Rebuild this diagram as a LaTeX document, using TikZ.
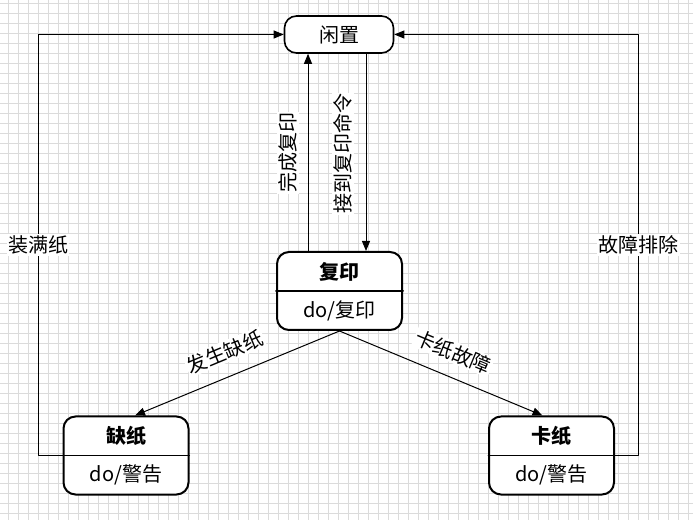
\documentclass[tikz,border=0pt]{standalone}
\usepackage{fontspec}
\setmainfont{Noto Sans CJK SC}
\usetikzlibrary{arrows.meta}
\usetikzlibrary{calc}
\definecolor{gridgray}{rgb}{0.86,0.86,0.86}

\begin{document}
\begin{tikzpicture}[line cap=round,line join=round,x=0.75pt,y=-0.75pt,
  every node/.style={font=\fontsize{15pt}{18pt}\selectfont},
  state/.style={draw=black,line width=1.5pt,rounded corners=9pt,fill=white,minimum width=93.75pt,minimum height=58.5pt,inner sep=0pt},
  idlebox/.style={draw=black,line width=1.2pt,rounded corners=9pt,fill=white,minimum width=81.75pt,minimum height=27.75pt,inner sep=0pt},
  trans/.style={-{Triangle[length=7.5pt,width=6pt]},line width=0.75pt},
  lbl/.style={fill=white,inner sep=1pt}]
\useasboundingbox (0,0) rectangle (693,520);
\fill[white] (0,0) rectangle (693,520);
\foreach \gx in {8,18,...,688}
\draw[gridgray,line width=0.6pt] (\gx,0) -- (\gx,520);
\foreach \gy in {3,13,...,513}
\draw[gridgray,line width=0.6pt] (0,\gy) -- (693,\gy);
\node[idlebox] (idle) at (339,34.5) {闲置};
\node[state] (copy) at (339.5,291) {};
\node[font=\fontsize{15pt}{18pt}\selectfont\bfseries] (copyname) at (339.5,271.5) {复印};
\node (copydo) at (339.5,310.5) {do/复印};
\draw[line width=1.5pt] (copy.west) -- (copy.east);
\node[state] (lack) at (126,455.5) {};
\node[font=\fontsize{15pt}{18pt}\selectfont\bfseries] (lackname) at (126,436) {缺纸};
\node (lackdo) at (126,475) {do/警告};
\draw[line width=0.75pt] (lack.west) -- (lack.east);
\node[state] (jam) at (551.5,455.5) {};
\node[font=\fontsize{15pt}{18pt}\selectfont\bfseries] (jamname) at (551.5,436) {卡纸};
\node (jamdo) at (551.5,475) {do/警告};
\draw[line width=0.75pt] (jam.west) -- (jam.east);
\coordinate (upx) at (308,0);
\coordinate (downx) at (366,0);
\coordinate (leftx) at (38,0);
\coordinate (rightx) at (638.5,0);
\draw[trans] (copy.north -| upx) -- (idle.south -| upx);
\draw[trans] (idle.south -| downx) -- (copy.north -| downx);
\draw[trans] (copy.south) -- ($(lack.north)+(9,0)$);
\draw[trans] (copy.south) -- ($(jam.north)+(-9,0)$);
\draw[trans] (lack.west) -- (lack.west -| leftx) |- (idle.west) node[lbl,pos=0.25] (fulllbl) {装满纸};
\draw[trans] (jam.east) -- (jam.east -| rightx) |- (idle.east) node[lbl,pos=0.25] (fixlbl) {故障排除};
\node[lbl,rotate=90] (donelbl) at (288,153) {完成复印};
\node[lbl,rotate=90] (cmdlbl) at (343,154) {接到复印命令};
\node[lbl,rotate=22.6] (lacklbl) at (225,352) {发生缺纸};
\node[lbl,rotate=-22.6] (jamlbl) at (453,352) {卡纸故障};
\end{tikzpicture}
\end{document}
